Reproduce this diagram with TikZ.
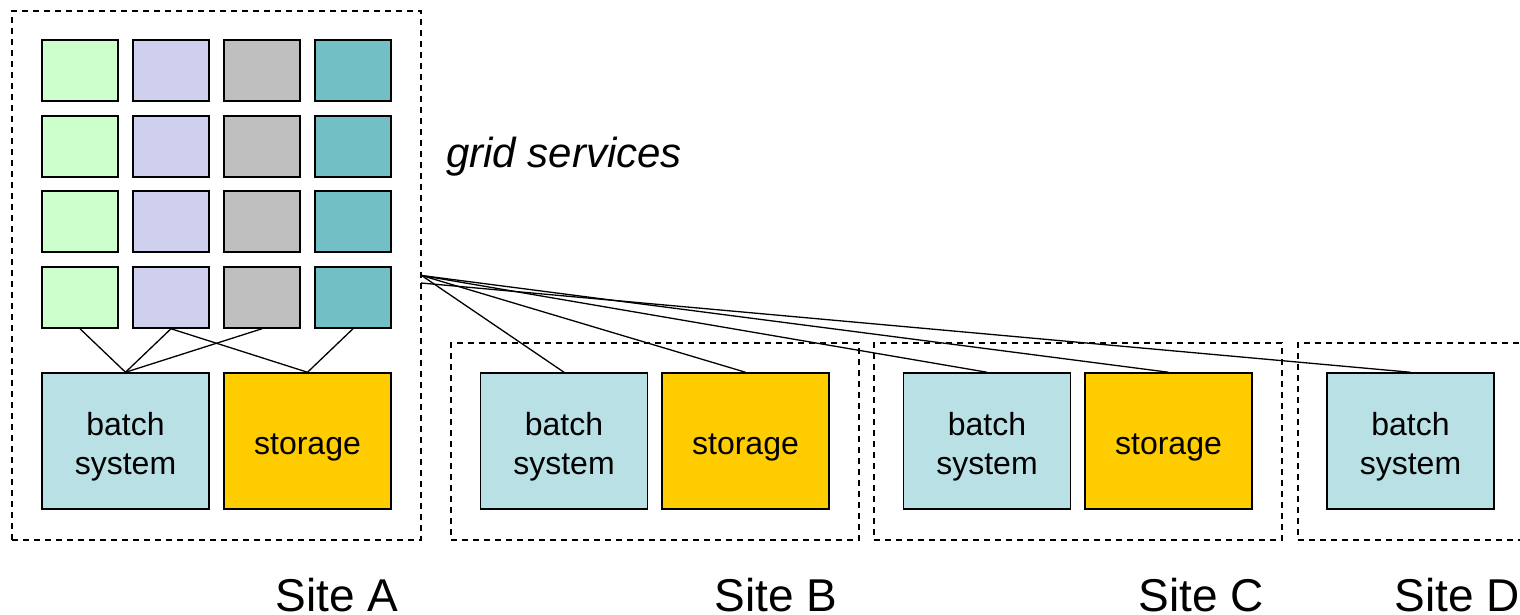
\documentclass[tikz,border=0pt]{standalone}
\usepackage{fontspec}
\setmainfont{Liberation Sans}
\usetikzlibrary{positioning}

\definecolor{svcgreen}{RGB}{204,255,204}
\definecolor{svcviolet}{RGB}{207,208,238}
\definecolor{svcgray}{RGB}{191,191,191}
\definecolor{svcteal}{RGB}{114,191,197}
\definecolor{batchblue}{RGB}{185,224,228}
\definecolor{storeyellow}{RGB}{255,204,0}

\tikzset{every picture/.style={line width=1.5pt}}
\tikzset{
  svc/.style={draw, minimum width=76pt, minimum height=61pt, inner sep=0pt},
  res/.style={draw, minimum width=167pt, minimum height=136pt, inner sep=0pt,
    label={[restext]center:#1}},
  restext/.style={align=center, inner sep=0pt, yshift=-6pt,
    font=\fontsize{32}{39}\selectfont},
  sitebox/.style={draw, dash pattern=on 6pt off 5pt, line width=1.2pt,
    minimum height=197pt, minimum width=408pt, inner sep=0pt},
  sitelabel/.style={anchor=base, font=\fontsize{46}{50}\selectfont},
  link/.style={line width=1.3pt}
}

\begin{document}
\begin{tikzpicture}[x=1pt,y=1pt,yscale=-1,xscale=1]
\useasboundingbox (0,0) rectangle (1520,615);

% sites
\node[sitebox, minimum width=409pt, minimum height=529pt] (siteA) at (216.5,275.5) {};
\node[sitebox] (siteB) at (655,441.5) {};
\node[sitebox] (siteC) at (1078,441.5) {};
\node[sitebox] (siteD) at (1502,441.5) {};

% grid services at site A
\foreach \row/\y in {1/70.5,2/146.5,3/221.5,4/297.5}
  \foreach \col/\x/\c in {1/80/svcgreen,2/171/svcviolet,3/262/svcgray,4/353/svcteal}
    \node[svc, fill=\c] (s\row\col) at (\x,\y) {};

\node[anchor=base west, font=\fontsize{42}{46}\selectfont\itshape] (gridsvc) at (442,167) {grid services};

% batch systems and storage
\node[res={batch\\system}, fill=batchblue] (batchA) at (125.5,441) {};
\node[res=storage, fill=storeyellow] (storeA) at (307.5,441) {};
\node[res={batch\\system}, fill=batchblue] (batchB) at (564,441) {};
\node[res=storage, fill=storeyellow] (storeB) at (745.5,441) {};
\node[res={batch\\system}, fill=batchblue] (batchC) at (987,441) {};
\node[res=storage, fill=storeyellow] (storeC) at (1168.5,441) {};
\node[res={batch\\system}, fill=batchblue] (batchD) at (1410.5,441) {};

% links inside site A
\draw[link] (s41.south) -- (batchA.north);
\draw[link] (s42.south) -- (batchA.north);
\draw[link] (s43.south) -- (batchA.north);
\draw[link] (s42.south) -- (storeA.north);
\draw[link] (s44.south) -- (storeA.north);

% links to the other sites
\coordinate (hubD) at (421,283);
\draw[link] (siteA.east) -- (batchB.north);
\draw[link] (siteA.east) -- (storeB.north);
\draw[link] (siteA.east) -- (batchC.north);
\draw[link] (siteA.east) -- (storeC.north);
\draw[link] (hubD) -- (batchD.north);

% site names
\node[sitelabel] (labA) at (337,611) {Site A};
\node[sitelabel] (labB) at (776,611) {Site B};
\node[sitelabel] (labC) at (1201,611) {Site C};
\node[sitelabel] (labD) at (1457,611) {Site D};

\end{tikzpicture}
\end{document}
